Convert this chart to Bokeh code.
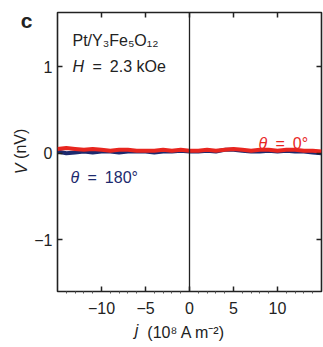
from bokeh.plotting import figure
from bokeh.models import (Range1d, LinearAxis, FixedTicker, Span, Label,
                          ColumnDataSource)
from bokeh.embed import file_html
from bokeh.resources import INLINE

# Current density (10^8 A m^-2) and measured voltage (nV)
j = [-15, -14, -13, -12, -11, -10, -9, -8, -7, -6, -5, -4, -3, -2, -1, 0,
     1, 2, 3, 4, 5, 6, 7, 8, 9, 10, 11, 12, 13, 14, 15]
v_theta0 = [0.05, 0.06, 0.05, 0.04, 0.05, 0.04, 0.03, 0.04, 0.04, 0.03, 0.03,
            0.03, 0.04, 0.03, 0.04, 0.03, 0.03, 0.04, 0.03, 0.04, 0.05, 0.04,
            0.03, 0.04, 0.04, 0.03, 0.04, 0.04, 0.03, 0.03, 0.02]
v_theta180 = [0.02, 0.00, 0.01, 0.02, 0.01, 0.02, 0.02, 0.01, 0.02, 0.02, 0.02,
              0.01, 0.02, 0.02, 0.03, 0.02, 0.02, 0.03, 0.02, 0.04, 0.04, 0.03,
              0.02, 0.02, 0.03, 0.02, 0.03, 0.02, 0.02, 0.01, 0.00]

x_ticks = [-10, -5, 0, 5, 10]
x_minor = [-14, -13, -12, -11, -9, -8, -7, -6, -4, -3, -2, -1,
           1, 2, 3, 4, 6, 7, 8, 9, 11, 12, 13, 14]
y_ticks = [-1, 0, 1]
tick_text = {-10: "\u221210", -5: "\u22125", -1: "\u22121"}

X0, X1 = -15, 15
Y0, Y1 = -1.6, 1.63
FL, FT, FW, FH = 57, 12, 264, 279

INK = "#222222"
RED = "#e8261f"
NAVY = "#1d2a6e"
FONT = "Liberation Sans"
NB = "\u00a0"
EN = "\u2002"

p = figure(frame_width=FW, frame_height=FH, output_backend="svg",
           toolbar_location=None, x_range=Range1d(X0, X1),
           y_range=Range1d(Y0, Y1),
           min_border_left=FL, min_border_right=2,
           min_border_top=FT, min_border_bottom=56,
           x_axis_location=None, y_axis_location=None)
p.grid.visible = False
p.outline_line_color = INK
p.outline_line_width = 1.6
p.background_fill_color = "white"
p.border_fill_color = "white"


def dx(px):
    return round(X0 + (px - FL) / FW * (X1 - X0), 2)


def dy(py):
    return round(Y1 - (py - FT) / FH * (Y1 - Y0), 2)


def tick_axis(ticks, show_labels, minor=None, standoff=7):
    ax = LinearAxis(ticker=FixedTicker(ticks=ticks, minor_ticks=minor or []))
    ax.axis_line_color = None
    ax.major_tick_in = 5
    ax.major_tick_out = 0
    ax.major_tick_line_color = INK
    ax.major_tick_line_width = 1.5
    if minor:
        ax.minor_tick_in = 0
        ax.minor_tick_out = 2
        ax.minor_tick_line_color = "#555555"
        ax.minor_tick_line_width = 1
    else:
        ax.minor_tick_line_color = None
    ax.major_label_text_font = FONT
    ax.major_label_text_font_size = "16px"
    ax.major_label_text_color = INK
    if show_labels:
        ax.major_label_standoff = standoff
        ax.major_label_overrides = tick_text
    else:
        ax.major_label_standoff = 0
        ax.major_label_overrides = {t: "" for t in ticks}
    return ax


def text_axis(at, s, standoff, size="16px", style="normal",
              orientation="horizontal"):
    # an axis that carries one piece of text at a chosen position
    ax = LinearAxis(ticker=FixedTicker(ticks=[at], minor_ticks=[]))
    ax.axis_line_color = None
    ax.major_tick_line_color = None
    ax.minor_tick_line_color = None
    ax.major_tick_in = 0
    ax.major_tick_out = 0
    ax.major_label_standoff = standoff
    ax.major_label_overrides = {at: s}
    ax.major_label_text_font = FONT
    ax.major_label_text_font_size = size
    ax.major_label_text_font_style = style
    ax.major_label_text_color = INK
    ax.major_label_orientation = orientation
    return ax


# frame ticks on all four sides, numbers on the left and bottom
p.add_layout(tick_axis(x_ticks, True, x_minor, standoff=8), "below")
p.add_layout(tick_axis(x_ticks, False), "above")
p.add_layout(tick_axis(y_ticks, True, standoff=5), "left")
p.add_layout(tick_axis(y_ticks, False), "right")

# x title: italic symbol plus units on one line
p.add_layout(text_axis(dx(136), "j", 5, style="italic"), "below")
p.add_layout(text_axis(dx(186), "(10\u2078 A m\u207b\u00b2)", -18), "below")

# panel letter, then y title: italic symbol plus units
p.add_layout(text_axis(dy(20), "c", -1, size="21px", style="bold"), "left")
p.add_layout(text_axis(dy(168), "V", -13, style="italic",
                       orientation="parallel"), "left")
p.add_layout(text_axis(dy(143), "(nV)", -19, orientation="parallel"), "left")

p.add_layout(Span(location=0, dimension="height", line_color=INK,
                  line_width=1.3))

src = ColumnDataSource(dict(j=j, a=v_theta0, b=v_theta180))
p.line("j", "b", source=src, line_color=NAVY, line_width=4)
p.line("j", "a", source=src, line_color=RED, line_width=4)


def text(px, py, s, size="16px", color=INK, style="normal"):
    p.add_layout(Label(x=dx(px), y=dy(py), text=s, text_font=FONT,
                       text_font_size=size, text_color=color,
                       text_font_style=style, text_baseline="alphabetic"))


# sample and field
text(72, 40, "Pt/Y\u2083Fe\u2085O\u2081\u2082")
text(72, 66, "H", style="italic")
text(84, 66, EN + "=" + EN + "2.3" + NB + "kOe")

# series labels
text(258, 143, "\u03b8", color=RED, style="italic")
text(267, 143, EN + "=" + EN + "0\u00b0", color=RED)
text(70, 177, "\u03b8", color=NAVY, style="italic")
text(79, 177, EN + "=" + EN + "180\u00b0", color=NAVY)

open("out.html", "w").write(file_html(p, INLINE))
